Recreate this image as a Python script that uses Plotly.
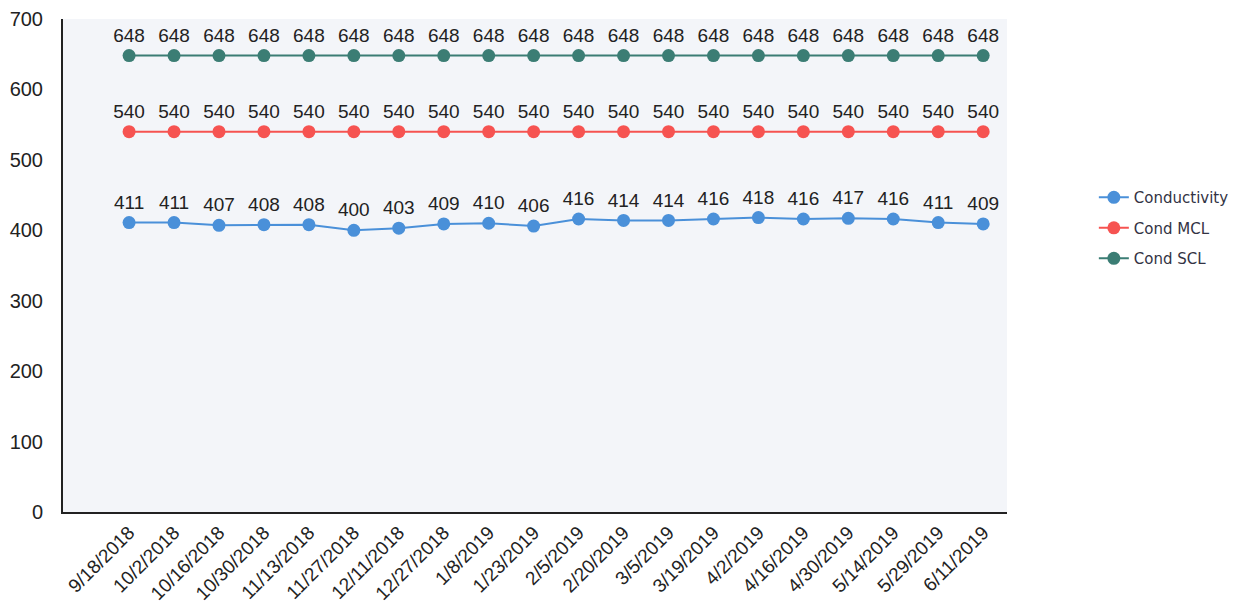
import plotly.graph_objects as go

dates = ["9/18/2018", "10/2/2018", "10/16/2018", "10/30/2018", "11/13/2018",
         "11/27/2018", "12/11/2018", "12/27/2018", "1/8/2019", "1/23/2019",
         "2/5/2019", "2/20/2019", "3/5/2019", "3/19/2019", "4/2/2019",
         "4/16/2019", "4/30/2019", "5/14/2019", "5/29/2019", "6/11/2019"]
conductivity = [411, 411, 407, 408, 408, 400, 403, 409, 410, 406,
                416, 414, 414, 416, 418, 416, 417, 416, 411, 409]
cond_mcl = [540] * 20
cond_scl = [648] * 20

series = [
    ("Conductivity", conductivity, "#4a90d9"),
    ("Cond MCL", cond_mcl, "#f65351"),
    ("Cond SCL", cond_scl, "#3b7d74"),
]

xs = list(range(len(dates)))
fig = go.Figure()
for name, vals, color in series:
    fig.add_trace(go.Scatter(
        x=xs, y=vals, name=name, legendgroup=name, mode="lines+markers+text",
        line=dict(color=color, width=2),
        marker=dict(color=color, size=13),
        text=[str(v) for v in vals], textposition="top center",
        textfont=dict(family="Liberation Sans, Arial", size=19, color="#222222"),
        cliponaxis=False,
    ))

fig.update_layout(
    width=1252, height=611,
    margin=dict(l=63, r=245, t=19, b=99),
    paper_bgcolor="white",
    plot_bgcolor="#f3f5f9",
    showlegend=True,
    legend=dict(x=1.092, y=0.576, xanchor="left", yanchor="middle",
                font=dict(family="DejaVu Sans, Verdana", size=15, color="#333344"),
                traceorder="grouped", itemwidth=30, tracegroupgap=8),
    font=dict(family="Liberation Sans, Arial", color="#222222"),
)
fig.update_xaxes(
    tickmode="array", tickvals=xs, ticktext=dates, tickangle=-45,
    range=[-1.47, 19.53], showgrid=False, zeroline=False, automargin=False,
    showline=True, linecolor="#222222", linewidth=2, ticks="",
    tickfont=dict(size=19),
)
fig.update_yaxes(
    range=[0, 700], dtick=100, showgrid=False, zeroline=False, automargin=False,
    showline=True, linecolor="#222222", linewidth=2, ticks="",
    tickfont=dict(size=20), ticklabelstandoff=14,
)

fig.write_html("out.html")
